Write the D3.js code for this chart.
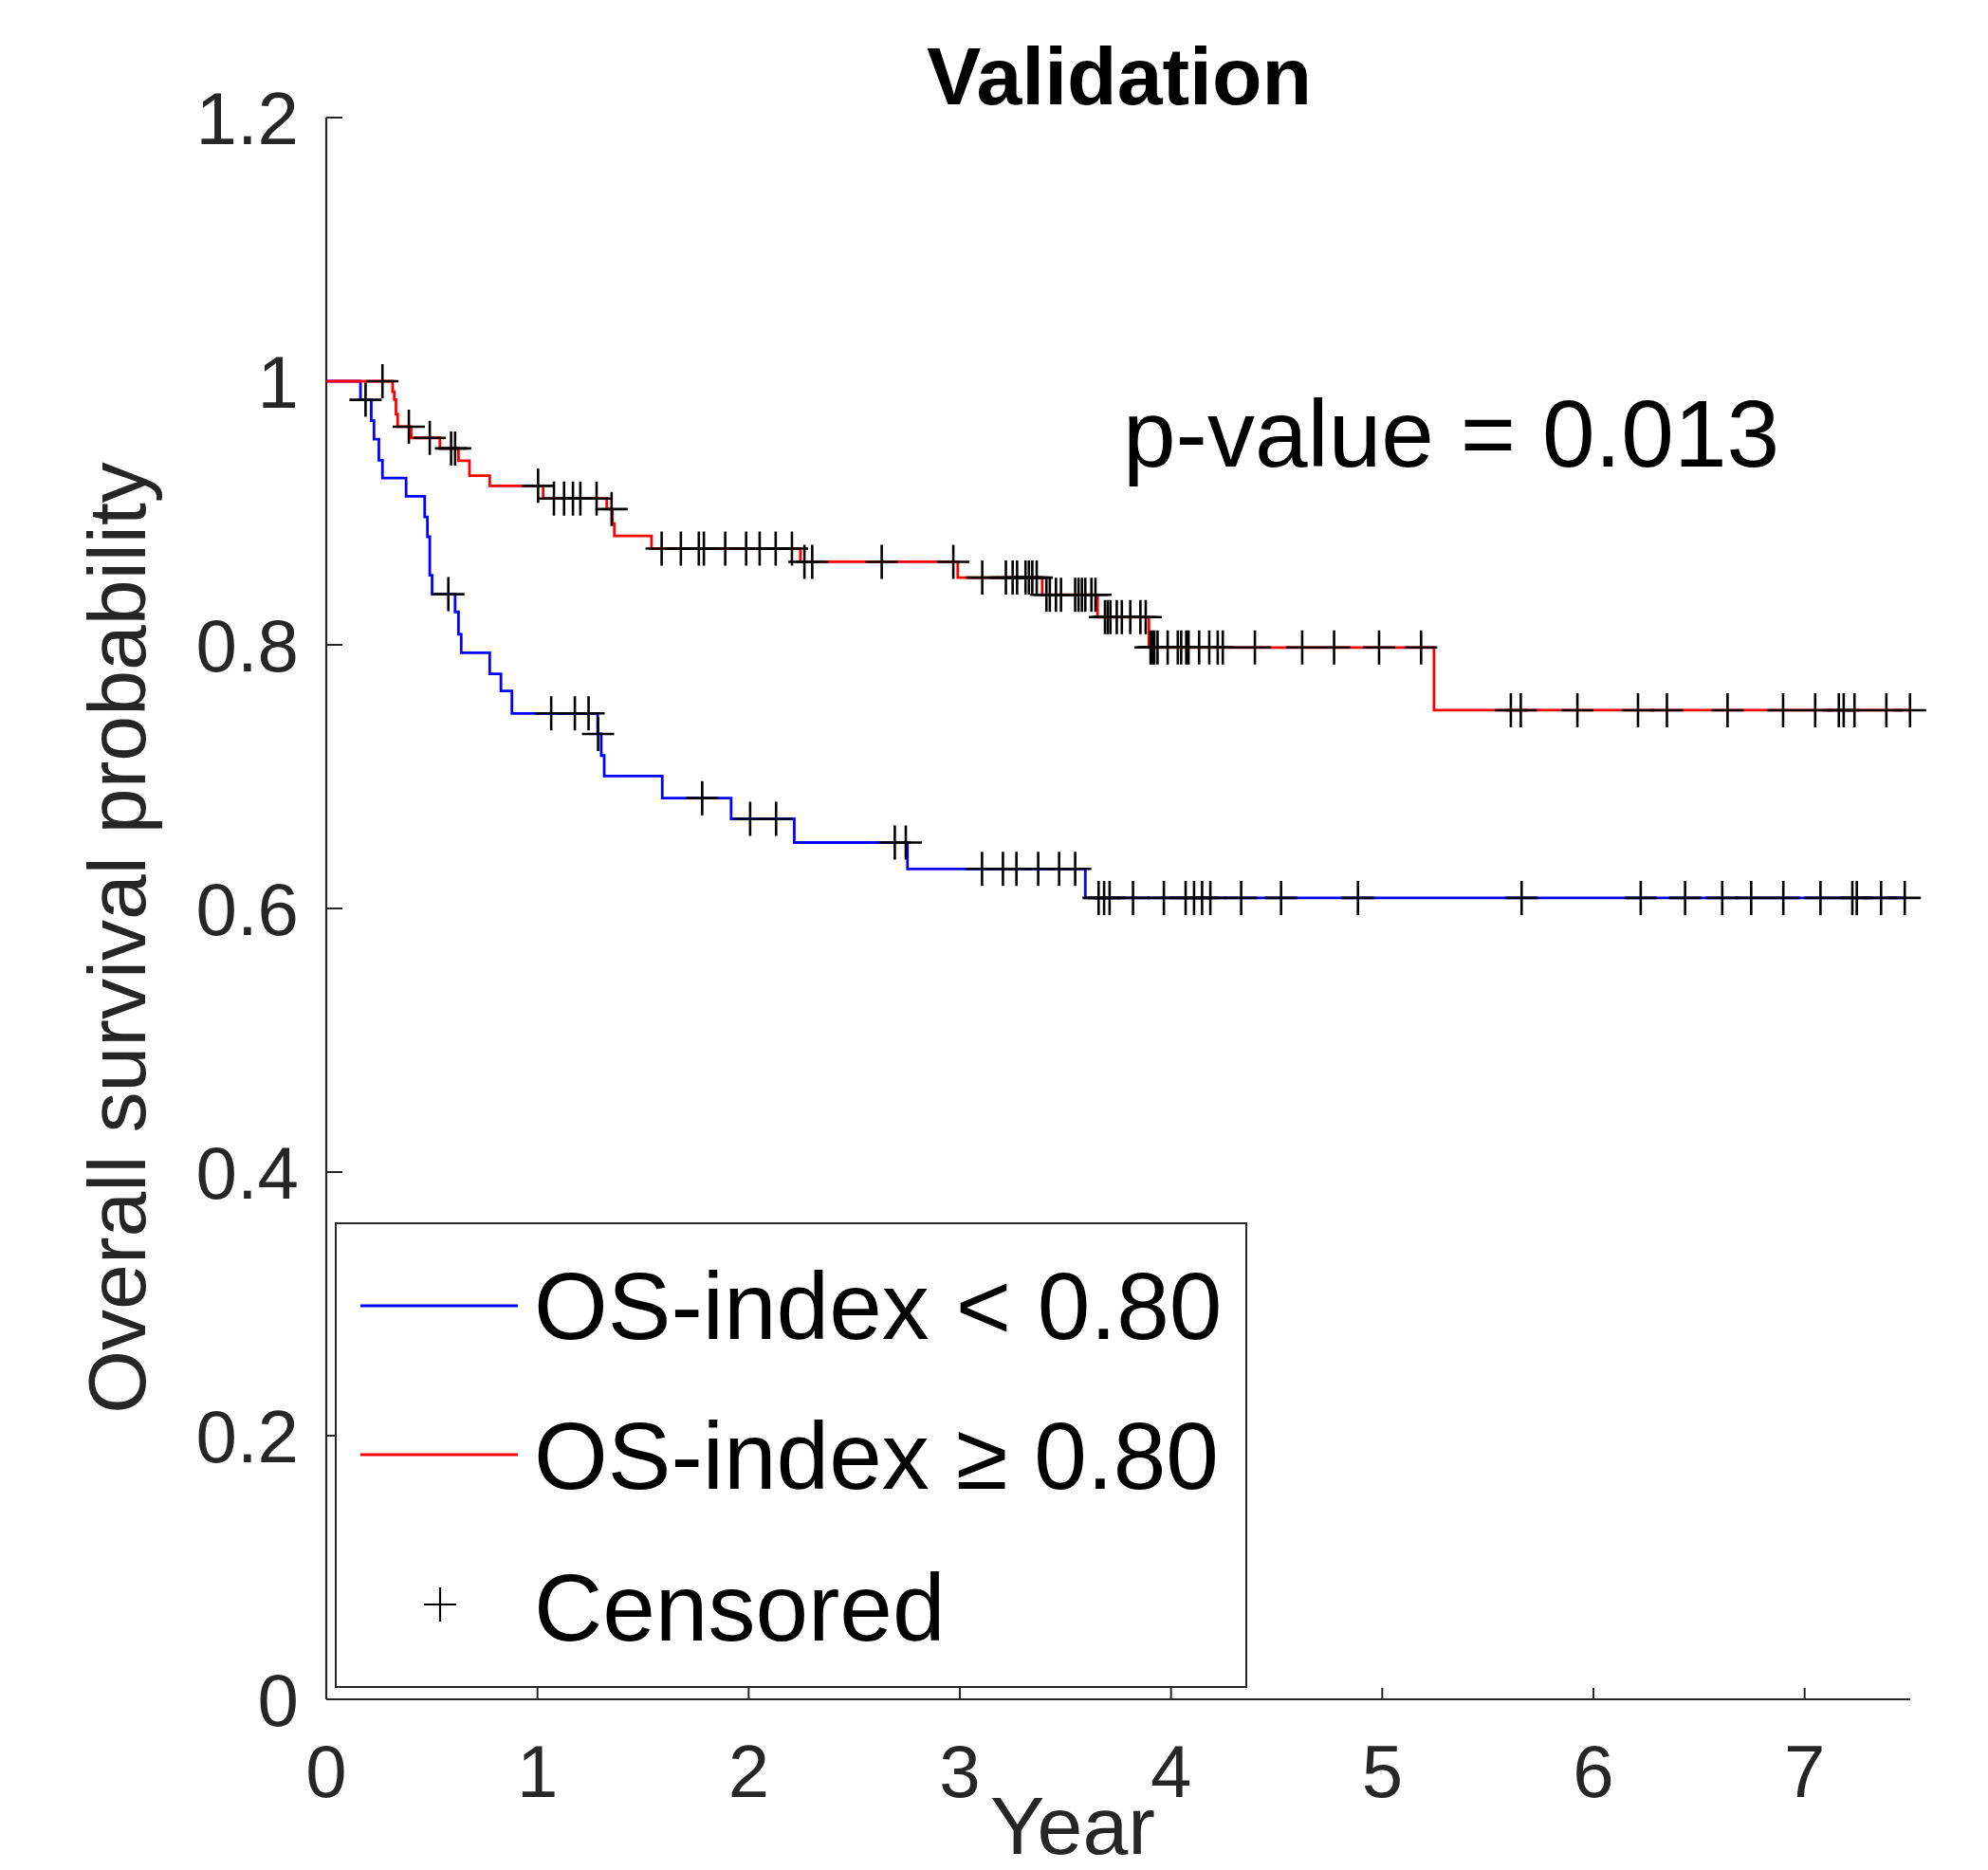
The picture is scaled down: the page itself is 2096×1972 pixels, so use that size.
<!DOCTYPE html>
<html>
<head>
<meta charset="utf-8">
<script src="https://cdn.jsdelivr.net/npm/d3@7/dist/d3.min.js"></script>
<style>
  html, body { margin: 0; padding: 0; background: #fff; }
  svg { display: block; }
  text { font-family: "Liberation Sans", Arial, sans-serif; }
</style>
</head>
<body>
<svg id="chart" width="2096" height="1972"></svg>
<script>
// ---------- data ----------
const xTicks = [0, 1, 2, 3, 4, 5, 6, 7];
const yTicks = [0, 0.2, 0.4, 0.6, 0.8, 1, 1.2];
const yTickLabels = ["0", "0.2", "0.4", "0.6", "0.8", "1", "1.2"];

// OS-index < 0.80 (blue)
const blueStepTimes = [0.162, 0.213, 0.226, 0.249, 0.266, 0.378, 0.466, 0.479, 0.490, 0.501, 0.610, 0.626, 0.639, 0.774, 0.827, 0.879, 1.285, 1.302, 1.316, 1.591, 1.917, 2.216, 2.752, 3.594];
const blueStepSurv  = [0.9859, 0.970, 0.956, 0.940, 0.9266, 0.9127, 0.897, 0.882, 0.8528, 0.8384, 0.825, 0.808, 0.794, 0.778, 0.765, 0.748, 0.7324, 0.716, 0.7005, 0.6837, 0.668, 0.650, 0.630, 0.608];
const blueEnd = 7.474;
const blueCensor = [0.186, 0.578, 1.065, 1.177, 1.242, 1.287, 1.780, 2.007, 2.130, 2.692, 2.744, 3.105, 3.204, 3.268, 3.371, 3.470, 3.546, 3.657, 3.683, 3.709, 3.820, 3.966, 4.069, 4.109, 4.147, 4.186, 4.332, 4.521, 4.885, 5.660, 6.224, 6.434, 6.610, 6.747, 6.899, 7.075, 7.226, 7.247, 7.362, 7.474];

// OS-index >= 0.80 (red)
const redStepTimes = [0.314, 0.322, 0.330, 0.338, 0.402, 0.538, 0.626, 0.678, 0.774, 1.027, 1.328, 1.355, 1.364, 1.540, 2.245, 2.990, 3.390, 3.652, 3.895, 5.245];
const redStepSurv  = [0.992, 0.986, 0.975, 0.9655, 0.957, 0.949, 0.9396, 0.9283, 0.9206, 0.911, 0.903, 0.892, 0.8827, 0.873, 0.863, 0.851, 0.838, 0.821, 0.798, 0.7504];
const redEnd = 7.499;
const redCensor = [0.266, 0.391, 0.490, 0.591, 0.610, 1.003, 1.078, 1.126, 1.168, 1.203, 1.280, 1.351, 1.588, 1.679, 1.764, 1.788, 1.889, 1.988, 2.052, 2.128, 2.205, 2.264, 2.301, 2.63, 2.969, 3.106, 3.218, 3.250, 3.271, 3.311, 3.327, 3.343, 3.364, 3.410, 3.426, 3.455, 3.479, 3.546, 3.562, 3.578, 3.594, 3.623, 3.642, 3.687, 3.700, 3.713, 3.743, 3.767, 3.807, 3.855, 3.880, 3.903, 3.912, 3.921, 3.936, 3.984, 4.032, 4.048, 4.072, 4.083, 4.133, 4.181, 4.221, 4.245, 4.397, 4.621, 4.772, 4.985, 5.184, 5.609, 5.656, 5.924, 6.211, 6.348, 6.635, 6.898, 7.050, 7.162, 7.185, 7.236, 7.387, 7.499];

const titleText = "Validation";
const xLabel = "Year";
const yLabel = "Overall survival probability";
const pText = "p-value = 0.013";
const legendLabels = ["OS-index < 0.80", "OS-index \u2265 0.80", "Censored"];

// ---------- layout ----------
const svg = d3.select("#chart");
const axisColor = "#262626";
const x = d3.scaleLinear().domain([0, 7.5]).range([344, 2014]);
const y = d3.scaleLinear().domain([0, 1.2]).range([1792, 124]);

// axes lines
svg.append("line").attr("x1", 344).attr("x2", 2014).attr("y1", 1792).attr("y2", 1792)
  .attr("stroke", axisColor).attr("stroke-width", 2.2);
svg.append("line").attr("x1", 344).attr("x2", 344).attr("y1", 124).attr("y2", 1792)
  .attr("stroke", axisColor).attr("stroke-width", 2.2);

// x ticks (inward)
const gx = svg.append("g");
xTicks.forEach(t => {
  gx.append("line").attr("x1", x(t)).attr("x2", x(t)).attr("y1", 1792).attr("y2", 1780)
    .attr("stroke", axisColor).attr("stroke-width", 2);
  gx.append("text").attr("x", x(t)).attr("y", 1895).attr("text-anchor", "middle")
    .attr("font-size", 78).attr("fill", axisColor).text(d3.format("d")(t));
});
// y ticks (inward)
const gy = svg.append("g");
yTicks.forEach((t, i) => {
  gy.append("line").attr("x1", 344).attr("x2", 361).attr("y1", y(t)).attr("y2", y(t))
    .attr("stroke", axisColor).attr("stroke-width", 2);
  gy.append("text").attr("x", 315).attr("y", y(t)).attr("dy", "0.36em").attr("text-anchor", "end")
    .attr("font-size", 78).attr("fill", axisColor).text(yTickLabels[i]);
});

// ---------- curves ----------
function stepPoints(times, surv, end) {
  const pts = [[0, 1]];
  times.forEach((t, i) => pts.push([t, surv[i]]));
  pts.push([end, surv[surv.length - 1]]);
  return pts;
}
function survAt(times, surv, t) {
  const i = d3.bisectRight(times, t);
  return i === 0 ? 1 : surv[i - 1];
}
const line = d3.line().x(d => x(d[0])).y(d => y(d[1])).curve(d3.curveStepAfter);

svg.append("path").datum(stepPoints(blueStepTimes, blueStepSurv, blueEnd))
  .attr("d", line).attr("fill", "none").attr("stroke", "#0000ff").attr("stroke-width", 2.8);
svg.append("path").datum(stepPoints(redStepTimes, redStepSurv, redEnd))
  .attr("d", line).attr("fill", "none").attr("stroke", "#ff0000").attr("stroke-width", 2.8);

const plus = "M-17,0H17M0,-18V18";
const gc = svg.append("g").attr("stroke", "#000").attr("stroke-width", 2.6).attr("fill", "none");
blueCensor.forEach(t => {
  gc.append("path").attr("d", plus)
    .attr("transform", `translate(${x(t)},${y(survAt(blueStepTimes, blueStepSurv, t))})`);
});
redCensor.forEach(t => {
  gc.append("path").attr("d", plus)
    .attr("transform", `translate(${x(t)},${y(survAt(redStepTimes, redStepSurv, t))})`);
});

// ---------- texts ----------
svg.append("text").attr("x", 1180).attr("y", 110).attr("text-anchor", "middle")
  .attr("font-size", 86).attr("font-weight", "bold").attr("fill", "#000").text(titleText);
svg.append("text").attr("x", 1131).attr("y", 1955).attr("text-anchor", "middle")
  .attr("font-size", 86).attr("fill", axisColor).text(xLabel);
svg.append("text").attr("transform", "translate(153,989) rotate(-90)").attr("text-anchor", "middle")
  .attr("font-size", 86).attr("fill", axisColor).text(yLabel);
svg.append("text").attr("x", 1184).attr("y", 492)
  .attr("font-size", 100).attr("fill", "#000").text(pText);

// ---------- legend ----------
const lg = svg.append("g");
lg.append("rect").attr("x", 354).attr("y", 1290).attr("width", 960).attr("height", 489)
  .attr("fill", "#fff").attr("stroke", axisColor).attr("stroke-width", 2);
const legendY = [1377, 1534, 1692];
const legendBase = [1412, 1570, 1730];
lg.append("line").attr("x1", 380).attr("x2", 546).attr("y1", legendY[0]).attr("y2", legendY[0])
  .attr("stroke", "#0000ff").attr("stroke-width", 2.8);
lg.append("line").attr("x1", 380).attr("x2", 546).attr("y1", legendY[1]).attr("y2", legendY[1])
  .attr("stroke", "#ff0000").attr("stroke-width", 2.8);
lg.append("path").attr("d", plus).attr("transform", `translate(464,${legendY[2]})`)
  .attr("stroke", "#000").attr("stroke-width", 2.2).attr("fill", "none");
legendLabels.forEach((s, i) => {
  lg.append("text").attr("x", 563).attr("y", legendBase[i]).attr("font-size", 100)
    .attr("fill", "#000").text(s);
});
</script>
</body>
</html>
